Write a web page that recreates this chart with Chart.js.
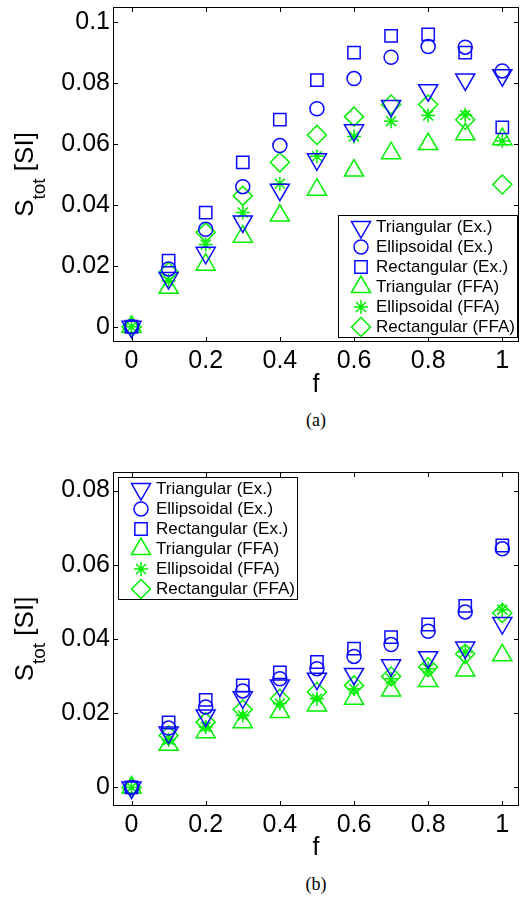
<!DOCTYPE html>
<html>
<head>
<meta charset="utf-8">
<script src="https://cdn.jsdelivr.net/npm/chart.js@4.4.1/dist/chart.umd.min.js"></script>
<style>
  body { margin: 0; background: #fff; width: 520px; height: 904px; position: relative; overflow: hidden; }
  .box { position: absolute; left: 0; width: 520px; height: 400px; }
  .cap { position: absolute; left: 216px; width: 200px; text-align: center;
         font: 18px "Liberation Serif", "Times New Roman", serif; line-height: 18px; color: #000; }
</style>
</head>
<body>
<div class="box" style="top:0"><canvas id="chartA" width="520" height="400"></canvas></div>
<div class="cap" style="top:411px">(a)</div>
<div class="box" style="top:463px"><canvas id="chartB" width="520" height="400"></canvas></div>
<div class="cap" style="top:875px">(b)</div>
<script>
// filling fraction f
const fVals = [0, 0.1, 0.2, 0.3, 0.4, 0.5, 0.6, 0.7, 0.8, 0.9, 1.0];
const xTicks = [0, 0.2, 0.4, 0.6, 0.8, 1];

// (a)
const triExA   = [0, 0.016, 0.0243, 0.0346, 0.045, 0.055, 0.0645, 0.0725, 0.0777, 0.0812, 0.0826];
const ellExA   = [0, 0.019, 0.032, 0.046, 0.0595, 0.0716, 0.0815, 0.0885, 0.092, 0.0918, 0.084];
const rectExA  = [0, 0.0217, 0.0375, 0.054, 0.068, 0.081, 0.090, 0.0955, 0.096, 0.090, 0.0655];
const triFfaA  = [0, 0.0128, 0.0204, 0.0296, 0.0365, 0.045, 0.0513, 0.057, 0.060, 0.0632, 0.0616];
const ellFfaA  = [0, 0.015, 0.027, 0.0375, 0.047, 0.056, 0.0625, 0.0675, 0.0694, 0.0695, 0.061];
const rectFfaA = [0, 0.018, 0.031, 0.043, 0.054, 0.063, 0.069, 0.073, 0.073, 0.068, 0.0467];
const yTicksA = [0, 0.02, 0.04, 0.06, 0.08, 0.1];

// (b)
const triExB   = [0, 0.0148, 0.0194, 0.0243, 0.0275, 0.0293, 0.0306, 0.0329, 0.0351, 0.0377, 0.0443];
const ellExB   = [0, 0.016, 0.0217, 0.026, 0.0293, 0.032, 0.0353, 0.0385, 0.0421, 0.0473, 0.0643];
const rectExB  = [0, 0.0175, 0.0236, 0.0275, 0.031, 0.0338, 0.0374, 0.0405, 0.0439, 0.0489, 0.0652];
const triFfaB  = [0, 0.0115, 0.0149, 0.0176, 0.0203, 0.0221, 0.0239, 0.0261, 0.0287, 0.0315, 0.0356];
const ellFfaB  = [0, 0.0128, 0.0163, 0.0194, 0.0226, 0.0239, 0.0266, 0.0293, 0.032, 0.0365, 0.0479];
const rectFfaB = [0, 0.014, 0.0176, 0.021, 0.0239, 0.0257, 0.0275, 0.0299, 0.0324, 0.036, 0.047];
const yTicksB = [0, 0.02, 0.04, 0.06, 0.08];

const labels = ["Triangular (Ex.)", "Ellipsoidal (Ex.)", "Rectangular (Ex.)",
                "Triangular (FFA)", "Ellipsoidal (FFA)", "Rectangular (FFA)"];

const BLUE = "rgb(10,10,255)";
const GREEN = "rgb(0,240,0)";
const markers = [
  { color: BLUE,  style: "triangle", rot: 180, r: 11 },
  { color: BLUE,  style: "circle",   rot: 0,   r: 7 },
  { color: BLUE,  style: "rect",     rot: 0,   r: 8.7 },
  { color: GREEN, style: "triangle", rot: 0,   r: 11 },
  { color: GREEN, style: "star",     rot: 0,   r: 7 },
  { color: GREEN, style: "rectRot",  rot: 0,   r: 9.5 },
];

Chart.defaults.font.family = "'Liberation Sans', Arial, sans-serif";
Chart.defaults.color = "#000";

function makeSets(series) {
  return series.map((vals, i) => ({
    label: labels[i],
    data: vals.map((v, k) => ({ x: fVals[k], y: v })),
    showLine: false,
    pointStyle: markers[i].style,
    pointRotation: markers[i].rot,
    pointRadius: markers[i].r,
    pointHoverRadius: markers[i].r,
    borderColor: markers[i].color,
    backgroundColor: "rgba(0,0,0,0)",
    borderWidth: 1.5,
    pointBorderWidth: 1.5,
  }));
}

// pin the plot area to fixed canvas pixels, then let the scales re-map
const fixArea = {
  id: "fixArea",
  afterLayout(chart, args, o) {
    const a = chart.chartArea;
    a.left = o.left; a.top = o.top; a.right = o.right; a.bottom = o.bottom;
    a.width = o.right - o.left; a.height = o.bottom - o.top;
    const x = chart.scales.x, y = chart.scales.y;
    x.left = o.left; x.right = o.right; x.width = a.width;
    x.top = o.bottom; x.bottom = chart.height; x.height = chart.height - o.bottom;
    x.configure();
    y.left = 0; y.right = o.left; y.width = o.left;
    y.top = o.top; y.bottom = o.bottom; y.height = a.height;
    y.configure();
  }
};

// box + inward ticks on all four sides
const framePlugin = {
  id: "frame",
  afterDatasetsDraw(chart) {
    const { ctx, chartArea: a, scales } = chart;
    ctx.save();
    ctx.strokeStyle = "#000";
    ctx.lineWidth = 1;
    ctx.strokeRect(a.left + 0.5, a.top + 0.5, a.right - a.left - 1, a.bottom - a.top - 1);
    ctx.beginPath();
    scales.x.ticks.forEach(t => {
      const px = Math.round(scales.x.getPixelForValue(t.value)) + 0.5;
      ctx.moveTo(px, a.bottom); ctx.lineTo(px, a.bottom - 5);
      ctx.moveTo(px, a.top); ctx.lineTo(px, a.top + 5);
    });
    scales.y.ticks.forEach(t => {
      const py = Math.round(scales.y.getPixelForValue(t.value)) + 0.5;
      ctx.moveTo(a.left, py); ctx.lineTo(a.left + 5, py);
      ctx.moveTo(a.right, py); ctx.lineTo(a.right - 5, py);
    });
    ctx.stroke();
    ctx.restore();
  }
};

// y title with subscript: S_tot [SI]
const yTitlePlugin = {
  id: "yTitle",
  afterDraw(chart) {
    const { ctx, chartArea: a } = chart;
    const big = "26px 'Liberation Sans', Arial, sans-serif";
    const small = "19px 'Liberation Sans', Arial, sans-serif";
    ctx.save();
    ctx.fillStyle = "#000";
    ctx.textBaseline = "alphabetic";
    ctx.font = big; const w1 = ctx.measureText("S").width;
    const w3 = ctx.measureText(" [SI]").width;
    ctx.font = small; const w2 = ctx.measureText("tot").width;
    const total = w1 + w2 + w3;
    ctx.translate(33, (a.top + a.bottom) / 2);
    ctx.rotate(-Math.PI / 2);
    let x = -total / 2;
    ctx.font = big; ctx.fillText("S", x, 0); x += w1;
    ctx.font = small; ctx.fillText("tot", x, 12); x += w2;
    ctx.font = big; ctx.fillText(" [SI]", x, 0);
    ctx.restore();
  }
};

const boxLegend = {
  id: "boxLegend",
  afterDraw(chart, args, opts) {
    const { ctx, chartArea: a } = chart;
    const w = 179, h = 122;
    const left = opts.corner === "br" ? a.right - 2 - w : a.left + 5;
    const top = opts.corner === "br" ? a.bottom - 5 - h : a.top + 5;
    ctx.save();
    ctx.fillStyle = "#fff";
    ctx.fillRect(left, top, w, h);
    ctx.strokeStyle = "#000";
    ctx.lineWidth = 1;
    ctx.strokeRect(left + 0.5, top + 0.5, w, h);
    chart.data.datasets.forEach((ds, i) => {
      const cy = top + 12 + i * 20;
      ctx.strokeStyle = ds.borderColor;
      ctx.fillStyle = "rgba(0,0,0,0)";
      ctx.lineWidth = ds.borderWidth;
      Chart.helpers.drawPoint(ctx, {
        pointStyle: ds.pointStyle, rotation: ds.pointRotation,
        radius: ds.pointRadius, borderWidth: ds.borderWidth
      }, left + 23, cy);
      ctx.fillStyle = "#000";
      ctx.font = "17px 'Liberation Sans', Arial, sans-serif";
      ctx.textBaseline = "middle";
      ctx.fillText(ds.label, left + 38, cy);
    });
    ctx.restore();
  }
};

function makeChart(id, series, yMin, yMax, yTicks, area, corner) {
  return new Chart(document.getElementById(id), {
    type: "scatter",
    data: { datasets: makeSets(series) },
    options: {
      responsive: false,
      animation: false,
      layout: { autoPadding: false, padding: 0 },
      plugins: {
        legend: { display: false },
        tooltip: { enabled: false },
        boxLegend: { corner: corner },
        fixArea: area,
      },
      scales: {
        x: {
          type: "linear", min: -0.05, max: 1.045,
          afterBuildTicks: s => { s.ticks = xTicks.map(v => ({ value: v })); },
          grid: { display: false, drawTicks: false },
          border: { display: false },
          ticks: { autoSkip: false, maxRotation: 0, padding: 4, font: { size: 25 },
                   callback: v => String(+v.toFixed(2)) },
          title: { display: true, text: "f", font: { size: 25 }, padding: { top: 0, bottom: 0 } },
        },
        y: {
          type: "linear", min: yMin, max: yMax,
          afterBuildTicks: s => { s.ticks = yTicks.map(v => ({ value: v })); },
          grid: { display: false, drawTicks: false },
          border: { display: false },
          ticks: { autoSkip: false, padding: 3, font: { size: 25 },
                   callback: v => String(+v.toFixed(3)) },
        },
      },
    },
    plugins: [fixArea, framePlugin, yTitlePlugin, boxLegend],
  });
}

const chartA = makeChart("chartA", [triExA, ellExA, rectExA, triFfaA, ellFfaA, rectFfaA],
  -0.005, 0.105, yTicksA, { left: 113, top: 7, right: 519, bottom: 342 }, "br");
const chartB = makeChart("chartB", [triExB, ellExB, rectExB, triFfaB, ellFfaB, rectFfaB],
  -0.005, 0.085, yTicksB, { left: 113, top: 9, right: 519, bottom: 343 }, "tl");
</script>
</body>
</html>
